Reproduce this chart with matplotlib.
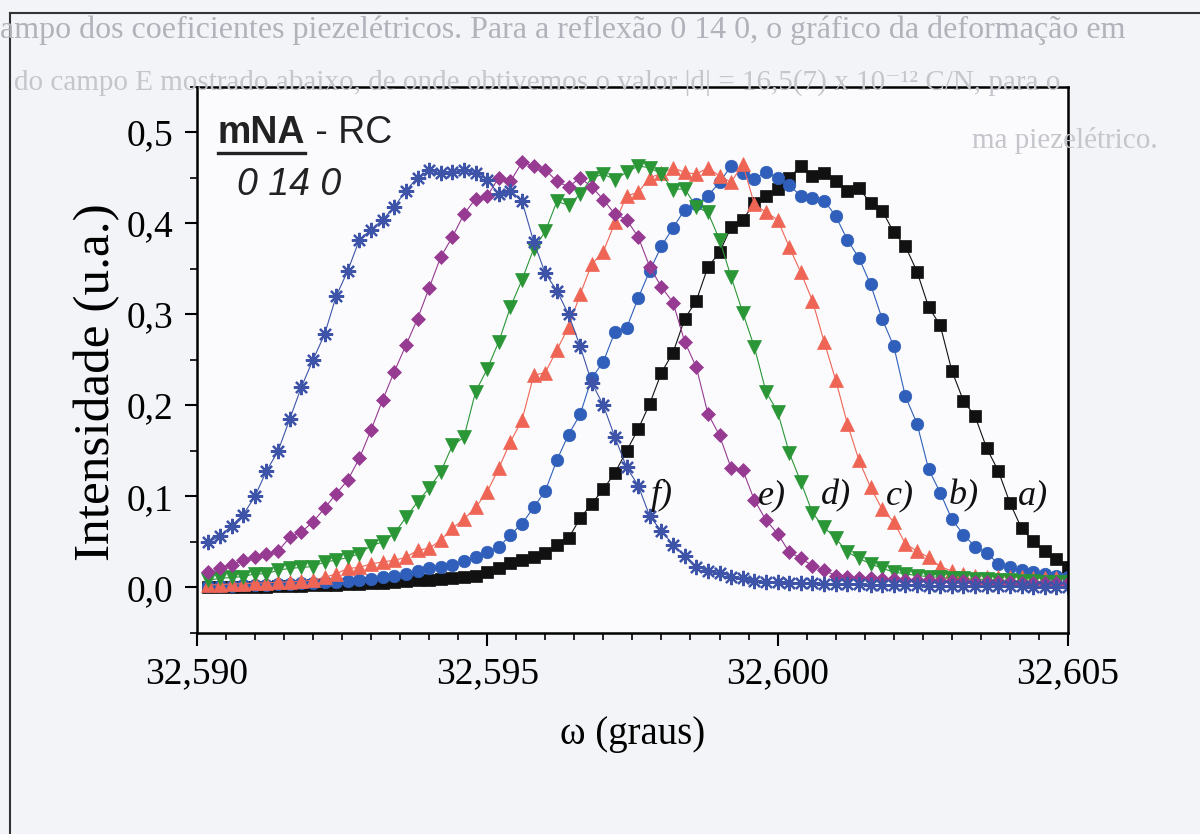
import numpy as np
import matplotlib
matplotlib.use("Agg")
import matplotlib.pyplot as plt
from matplotlib.ticker import MultipleLocator, FuncFormatter
from matplotlib.lines import Line2D

# scan positions (graus)
omega = [32.5902, 32.5904, 32.5906, 32.5908, 32.5910, 32.5912, 32.5914, 32.5916, 32.5918, 32.5920,
         32.5922, 32.5924, 32.5926, 32.5928, 32.5930, 32.5932, 32.5934, 32.5936, 32.5938, 32.5940,
         32.5942, 32.5944, 32.5946, 32.5948, 32.5950, 32.5952, 32.5954, 32.5956, 32.5958, 32.5960,
         32.5962, 32.5964, 32.5966, 32.5968, 32.5970, 32.5972, 32.5974, 32.5976, 32.5978, 32.5980,
         32.5982, 32.5984, 32.5986, 32.5988, 32.5990, 32.5992, 32.5994, 32.5996, 32.5998, 32.6000,
         32.6002, 32.6004, 32.6006, 32.6008, 32.6010, 32.6012, 32.6014, 32.6016, 32.6018, 32.6020,
         32.6022, 32.6024, 32.6026, 32.6028, 32.6030, 32.6032, 32.6034, 32.6036, 32.6038, 32.6040,
         32.6042, 32.6044, 32.6046, 32.6048, 32.6050]

# intensities read off the curves a) ... f)
int_a = [0.000, 0.000, 0.001, 0.001, 0.001, 0.001, 0.002, 0.002, 0.002, 0.003,
         0.003, 0.003, 0.004, 0.004, 0.005, 0.005, 0.006, 0.007, 0.008, 0.008,
         0.009, 0.010, 0.012, 0.013, 0.017, 0.021, 0.027, 0.030, 0.033, 0.038,
         0.047, 0.054, 0.076, 0.092, 0.108, 0.126, 0.150, 0.174, 0.202, 0.236,
         0.258, 0.295, 0.315, 0.352, 0.368, 0.396, 0.404, 0.422, 0.430, 0.438,
         0.450, 0.463, 0.452, 0.455, 0.446, 0.436, 0.439, 0.422, 0.414, 0.390,
         0.375, 0.347, 0.308, 0.288, 0.238, 0.205, 0.188, 0.153, 0.128, 0.093,
         0.065, 0.051, 0.040, 0.031, 0.022]
int_b = [0.002, 0.002, 0.002, 0.003, 0.003, 0.003, 0.004, 0.004, 0.005, 0.005,
         0.006, 0.006, 0.007, 0.008, 0.009, 0.011, 0.013, 0.015, 0.018, 0.021,
         0.023, 0.025, 0.029, 0.034, 0.039, 0.044, 0.058, 0.070, 0.088, 0.106,
         0.140, 0.168, 0.190, 0.230, 0.248, 0.281, 0.285, 0.318, 0.348, 0.375,
         0.395, 0.415, 0.421, 0.430, 0.445, 0.463, 0.455, 0.449, 0.456, 0.450,
         0.442, 0.430, 0.428, 0.425, 0.408, 0.382, 0.362, 0.333, 0.295, 0.265,
         0.210, 0.180, 0.130, 0.104, 0.075, 0.058, 0.045, 0.038, 0.026, 0.022,
         0.019, 0.017, 0.015, 0.013, 0.012]
int_c = [0.003, 0.003, 0.004, 0.004, 0.005, 0.005, 0.006, 0.006, 0.007, 0.008,
         0.011, 0.015, 0.021, 0.022, 0.026, 0.028, 0.030, 0.033, 0.041, 0.043,
         0.052, 0.065, 0.075, 0.088, 0.105, 0.131, 0.160, 0.184, 0.233, 0.236,
         0.261, 0.286, 0.322, 0.355, 0.369, 0.401, 0.430, 0.434, 0.450, 0.455,
         0.461, 0.456, 0.454, 0.461, 0.452, 0.445, 0.465, 0.421, 0.412, 0.404,
         0.374, 0.346, 0.315, 0.270, 0.228, 0.180, 0.140, 0.110, 0.086, 0.072,
         0.048, 0.040, 0.033, 0.023, 0.018, 0.015, 0.013, 0.012, 0.012, 0.011,
         0.011, 0.010, 0.010, 0.010, 0.009]
int_d = [0.008, 0.010, 0.011, 0.012, 0.015, 0.015, 0.019, 0.021, 0.022, 0.023,
         0.028, 0.030, 0.033, 0.037, 0.046, 0.050, 0.059, 0.077, 0.094, 0.109,
         0.127, 0.156, 0.165, 0.215, 0.240, 0.270, 0.308, 0.338, 0.372, 0.391,
         0.424, 0.420, 0.432, 0.450, 0.454, 0.448, 0.456, 0.463, 0.461, 0.454,
         0.437, 0.438, 0.418, 0.412, 0.382, 0.341, 0.302, 0.264, 0.215, 0.193,
         0.148, 0.116, 0.082, 0.066, 0.054, 0.039, 0.032, 0.026, 0.021, 0.017,
         0.015, 0.013, 0.012, 0.011, 0.010, 0.010, 0.009, 0.009, 0.008, 0.008,
         0.007, 0.007, 0.006, 0.006, 0.006]
int_e = [0.017, 0.021, 0.025, 0.030, 0.033, 0.037, 0.040, 0.055, 0.061, 0.072,
         0.087, 0.103, 0.118, 0.142, 0.173, 0.206, 0.237, 0.266, 0.295, 0.329,
         0.363, 0.385, 0.410, 0.427, 0.430, 0.450, 0.446, 0.467, 0.463, 0.459,
         0.446, 0.440, 0.450, 0.440, 0.426, 0.410, 0.404, 0.385, 0.352, 0.330,
         0.313, 0.270, 0.242, 0.191, 0.167, 0.131, 0.129, 0.096, 0.074, 0.059,
         0.039, 0.032, 0.024, 0.019, 0.013, 0.011, 0.010, 0.010, 0.009, 0.009,
         0.008, 0.008, 0.008, 0.007, 0.007, 0.007, 0.006, 0.006, 0.006, 0.006,
         0.005, 0.005, 0.005, 0.005, 0.005]
int_f = [0.050, 0.056, 0.068, 0.080, 0.100, 0.128, 0.150, 0.185, 0.220, 0.250,
         0.278, 0.320, 0.348, 0.382, 0.393, 0.404, 0.418, 0.436, 0.450, 0.458,
         0.455, 0.456, 0.459, 0.455, 0.448, 0.432, 0.436, 0.424, 0.380, 0.345,
         0.326, 0.300, 0.265, 0.225, 0.200, 0.165, 0.132, 0.112, 0.078, 0.062,
         0.047, 0.035, 0.023, 0.018, 0.016, 0.012, 0.010, 0.007, 0.006, 0.006,
         0.005, 0.005, 0.005, 0.004, 0.004, 0.004, 0.004, 0.003, 0.003, 0.003,
         0.003, 0.003, 0.002, 0.002, 0.002, 0.002, 0.002, 0.002, 0.002, 0.002,
         0.002, 0.001, 0.001, 0.001, 0.001]

series = [
    (int_a, "s", "#111111", 8.5),
    (int_b, "o", "#2f5fba", 9.0),
    (int_c, "^", "#ef6555", 10.0),
    (int_d, "v", "#2a9636", 10.0),
    (int_e, "D", "#963a92", 7.5),
    (int_f, (8, 2, 0), "#3d54a8", 11.0),
]

curve_labels = ["a)", "b)", "c)", "d)", "e)", "f)"]
label_x = [32.6044, 32.6032, 32.6021, 32.6010, 32.5999, 32.5980]
label_y = 0.101

serif = ["Liberation Serif", "DejaVu Serif"]

fig = plt.figure(figsize=(12, 8.34), dpi=100, facecolor="#f3f4f7")
ax = fig.add_axes([0.164, 0.241, 0.726, 0.655])
ax.set_facecolor("#fbfbfd")

for vals, mk, col, ms in series:
    if mk == "s" or mk == "o" or mk == "^" or mk == "v" or mk == "D":
        ax.plot(omega, vals, marker=mk, color=col, lw=0.8, ms=ms, mec=col, mew=0.5)
    else:
        ax.plot(omega, vals, marker=mk, color=col, lw=0.8, ms=ms, mec=col, mew=1.6)

for lab, lx in zip(curve_labels, label_x):
    ax.text(lx, label_y, lab, fontsize=26, fontstyle="italic", family=serif,
            ha="center", va="center", color="#111111")

ax.set_xlim(32.590, 32.605)
ax.set_ylim(-0.05, 0.55)

ax.xaxis.set_major_locator(MultipleLocator(0.005))
ax.xaxis.set_minor_locator(MultipleLocator(0.0005))
ax.yaxis.set_major_locator(MultipleLocator(0.1))
ax.yaxis.set_minor_locator(MultipleLocator(0.05))
ax.xaxis.set_major_formatter(FuncFormatter(lambda v, p: ("%.3f" % v).replace(".", ",")))
ax.yaxis.set_major_formatter(FuncFormatter(lambda v, p: ("%.1f" % v).replace(".", ",")))

ax.tick_params(which="major", direction="out", length=9, width=1.5, labelsize=27, pad=8)
ax.tick_params(which="minor", direction="out", length=5, width=1.2)
for t in ax.get_xticklabels() + ax.get_yticklabels():
    t.set_family(serif)
for sp in ax.spines.values():
    sp.set_linewidth(1.8)

ax.set_xlabel("\u03c9 (graus)", fontsize=28, family=serif, labelpad=18)
ax.set_ylabel("Intensidade (u.a.)", fontsize=37, family=serif)
ax.yaxis.set_label_coords(-0.088, 0.46)

# header inside the plot
t1 = ax.text(0.024, 0.916, "mNA", transform=ax.transAxes, fontsize=27, fontweight="bold",
             family="Liberation Sans", ha="left", va="center", color="#222222")
fig.canvas.draw()
bb = t1.get_window_extent().transformed(fig.transFigure.inverted())
fig.add_artist(Line2D([bb.x0, bb.x1], [bb.y0 - 0.003, bb.y0 - 0.003], transform=fig.transFigure,
                      color="#222222", lw=2.4))
ax.annotate(" - RC", xy=(1, 0.5), xycoords=t1, fontsize=27, family="Liberation Sans",
            ha="left", va="center", color="#222222")
ax.text(0.046, 0.82, "0 14 0", transform=ax.transAxes, fontsize=27, fontstyle="italic",
        family="Liberation Sans", ha="left", va="center", color="#222222")

# scanned page remnants: border lines and faint text
fig.add_artist(Line2D([0.008, 1.0], [0.984, 0.984], transform=fig.transFigure, color="#333333", lw=1.5))
fig.add_artist(Line2D([0.008, 0.008], [0.0, 0.984], transform=fig.transFigure, color="#333333", lw=1.5))
fig.text(0.0, 0.955, "ampo dos coeficientes piezelétricos. Para a reflexão 0 14 0, o gráfico da deformação em",
         fontsize=23, family=serif, color="#b0b3ba")
fig.text(0.012, 0.893, "do campo E mostrado abaixo, de onde obtivemos o valor |d| = 16,5(7) x 10\u207b\u00b9\u00b2 C/N, para o",
         fontsize=21, family=serif, color="#c4c6cc")
fig.text(0.81, 0.823, "ma piezelétrico.", fontsize=21, family=serif, color="#c4c6cc")

fig.savefig("out.png", dpi=100, facecolor=fig.get_facecolor())
